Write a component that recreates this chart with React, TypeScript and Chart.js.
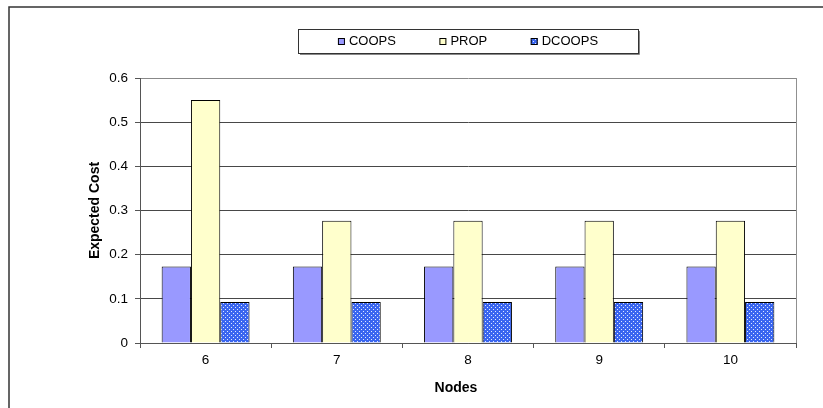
import React, { useEffect, useRef } from "react";
import { Chart, registerables } from "chart.js";

Chart.register(...registerables);

const categories = ["6", "7", "8", "9", "10"];
const seriesNames = ["COOPS", "PROP", "DCOOPS"];
const coopsValues = [0.173, 0.173, 0.173, 0.173, 0.173];
const propValues = [0.55, 0.277, 0.277, 0.277, 0.277];
const dcoopsValues = [0.093, 0.093, 0.093, 0.093, 0.093];
const yTicks = [0, 0.1, 0.2, 0.3, 0.4, 0.5, 0.6];

const FONT = "'Liberation Sans', Arial, sans-serif";

function makeDotPattern(): CanvasPattern | string {
  const c = document.createElement("canvas");
  c.width = 4;
  c.height = 4;
  const g = c.getContext("2d");
  if (!g) return "#3366ff";
  g.fillStyle = "#3a66f0";
  g.fillRect(0, 0, 4, 4);
  g.fillStyle = "#dfe8ff";
  g.fillRect(1, 1, 1, 1);
  g.fillRect(3, 3, 1, 1);
  const p = g.createPattern(c, "repeat");
  return p || "#3366ff";
}

const framePlugin = {
  id: "frame",
  beforeDraw(chart: any) {
    const ctx = chart.ctx;
    ctx.save();
    ctx.strokeStyle = "#333";
    ctx.lineWidth = 1.5;
    ctx.beginPath();
    ctx.moveTo(9, chart.height + 2);
    ctx.lineTo(9, 7);
    ctx.lineTo(chart.width + 2, 7);
    ctx.stroke();
    ctx.restore();
  },
  afterDraw(chart: any) {
    const ctx = chart.ctx;
    const a = chart.chartArea;
    ctx.save();
    ctx.strokeStyle = "#909090";
    ctx.lineWidth = 1;
    ctx.beginPath();
    ctx.moveTo(a.right + 0.5, a.top);
    ctx.lineTo(a.right + 0.5, a.bottom);
    ctx.stroke();

    const cx = (a.left + a.right) / 2;
    const boxL = 298, boxR = 638, boxT = 29, boxB = 53;
    ctx.strokeStyle = "#333";
    ctx.lineWidth = 1;
    ctx.strokeRect(boxL + 0.5, boxT + 0.5, boxR - boxL, boxB - boxT);
    ctx.strokeStyle = "#888";
    ctx.beginPath();
    ctx.moveTo(boxL + 2, boxB + 1.5);
    ctx.lineTo(boxR + 1.5, boxB + 1.5);
    ctx.lineTo(boxR + 1.5, boxT + 2);
    ctx.stroke();

    ctx.font = `13px ${FONT}`;
    ctx.textBaseline = "middle";
    const marker = 7, gap = 4, spacing = 43.5;
    const ds = chart.data.datasets;
    const widths = ds.map((d: any) => ctx.measureText(d.label).width);
    let total = 0;
    widths.forEach((w: number, i: number) => {
      total += marker + gap + w + (i < widths.length - 1 ? spacing : 0);
    });
    let x = cx - total / 2;
    const y = (boxT + boxB) / 2 + 0.5;
    ds.forEach((d: any, i: number) => {
      ctx.fillStyle = d.backgroundColor;
      ctx.fillRect(x, y - marker / 2, marker, marker);
      ctx.strokeStyle = "#000";
      ctx.strokeRect(x + 0.5, y - marker / 2 + 0.5, marker - 1, marker - 1);
      ctx.fillStyle = "#000";
      ctx.textAlign = "left";
      ctx.fillText(d.label, x + marker + gap, y);
      x += marker + gap + widths[i] + spacing;
    });

    ctx.font = `bold 14px ${FONT}`;
    ctx.textAlign = "center";
    ctx.textBaseline = "middle";
    ctx.fillStyle = "#000";
    ctx.fillText("Nodes", cx - 12, 388);
    ctx.restore();
  },
};

export default function App() {
  const ref = useRef<HTMLCanvasElement | null>(null);
  useEffect(() => {
    if (!ref.current) return;
    const pattern = makeDotPattern();
    const chart = new Chart(ref.current, {
      type: "bar",
      data: {
        labels: categories,
        datasets: [
          { label: seriesNames[0], data: coopsValues, backgroundColor: "#9999ff", borderColor: "#000", borderWidth: 1 },
          { label: seriesNames[1], data: propValues, backgroundColor: "#ffffcc", borderColor: "#000", borderWidth: 1 },
          { label: seriesNames[2], data: dcoopsValues, backgroundColor: pattern as any, borderColor: "#000", borderWidth: 1 },
        ],
      },
      options: {
        responsive: false,
        animation: false,
        layout: { padding: { left: 83, top: 78, right: 27, bottom: 9 } },
        datasets: { bar: { barPercentage: 1, categoryPercentage: 0.67 } },
        plugins: { legend: { display: false }, tooltip: { enabled: false }, title: { display: false } },
        scales: {
          x: {
            afterFit: (s: any) => { s.height = 56; },
            grid: { offset: true, drawOnChartArea: false, drawTicks: true, tickLength: 5, tickColor: "#555" },
            border: { color: "#555", width: 1 },
            ticks: { color: "#000", font: { family: FONT, size: 13.5 }, padding: 4 },
          },
          y: {
            min: 0,
            max: 0.6,
            afterFit: (s: any) => { s.width = 57; },
            afterBuildTicks: (s: any) => { s.ticks = yTicks.map((v) => ({ value: v })); },
            grid: {
              color: (c: any) => (c.tick && c.tick.value === 0.6 ? "#888" : "#484848"),
              tickColor: "#555",
              tickLength: 5,
              lineWidth: 1,
            },
            border: { color: "#555", width: 1 },
            ticks: {
              color: "#000",
              font: { family: FONT, size: 13.5 },
              padding: 7,
              callback: (v: any) => String(Math.round(Number(v) * 10) / 10),
            },
            title: { display: true, text: "Expected Cost", color: "#000", font: { family: FONT, size: 14, weight: "bold" } },
          },
        },
      },
      plugins: [framePlugin],
    });
    return () => chart.destroy();
  }, []);
  return (
    <div style={{ position: "absolute", left: 0, top: 0, width: 823, height: 408, background: "#fff" }}>
      <canvas ref={ref} width={823} height={408} />
    </div>
  );
}
